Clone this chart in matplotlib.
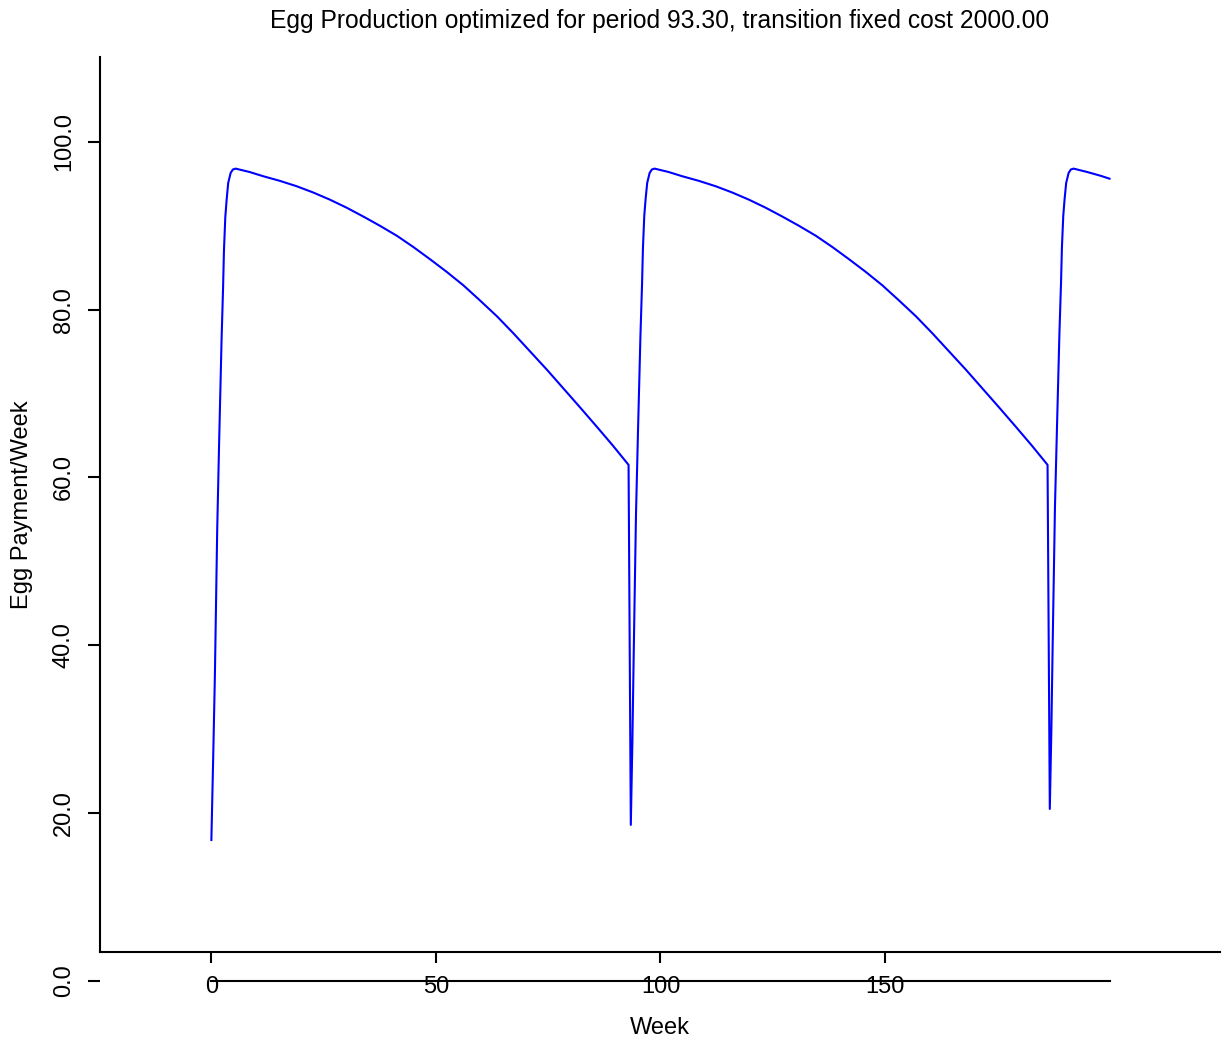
import matplotlib.pyplot as plt
from matplotlib.ticker import FormatStrFormatter

plt.rcParams['font.family'] = ['Liberation Sans', 'DejaVu Sans']
plt.rcParams['font.size'] = 17

# weeks and egg payment per week
weeks = [0.0, 0.4, 0.78, 1.3, 1.74, 2.27, 2.6, 2.8, 3.1, 3.4, 3.75, 4.3, 4.8, 5.4,
         8.5, 11.5, 15.2, 19.0, 22.7, 26.4, 30.1, 33.8, 37.5, 41.3, 45.0, 48.7, 52.4,
         56.1, 59.8, 63.6, 67.3, 71.0, 74.7, 78.4, 82.1, 85.9, 89.4, 92.9,
         93.4, 93.75, 94.05, 94.55, 95.0, 95.55, 95.9, 96.1, 96.4, 96.7, 97.05, 97.6, 98.1, 98.7,
         101.8, 104.8, 108.5, 112.3, 116.0, 119.7, 123.4, 127.1, 130.8, 134.6, 138.3, 142.0, 145.7,
         149.4, 153.1, 156.9, 160.6, 164.3, 168.0, 171.7, 175.4, 179.2, 182.7, 186.2,
         186.7, 187.05, 187.35, 187.85, 188.3, 188.85, 189.2, 189.4, 189.7, 190.0, 190.35, 190.9,
         191.4, 192.0, 195.0, 198.0, 200.0]
payment = [16.8, 26.5, 36.3, 53.8, 64.5, 76.4, 82.5, 87.0, 91.0, 93.1, 95.1, 96.3, 96.7, 96.8,
           96.4, 95.9, 95.35, 94.7, 93.95, 93.1, 92.15, 91.1, 90.0, 88.8, 87.45, 86.0, 84.5,
           82.9, 81.1, 79.2, 77.15, 75.0, 72.85, 70.6, 68.35, 66.0, 63.8, 61.5,
           18.6, 28.5, 39.1, 55.5, 65.5, 77.0, 83.0, 87.3, 91.2, 93.2, 95.1, 96.3, 96.7, 96.8,
           96.4, 95.9, 95.35, 94.7, 93.95, 93.1, 92.15, 91.1, 90.0, 88.8, 87.45, 86.0, 84.5,
           82.9, 81.1, 79.2, 77.15, 75.0, 72.85, 70.6, 68.35, 66.0, 63.8, 61.5,
           20.5, 30.0, 40.5, 56.5, 66.0, 77.3, 83.2, 87.4, 91.2, 93.2, 95.1, 96.3,
           96.7, 96.8, 96.4, 95.95, 95.6]

base_x = [0, 200]
base_y = [0, 0]

xticks = [0, 50, 100, 150]
yticks = [0, 20, 40, 60, 80, 100]

fig = plt.figure(figsize=(12.25, 10.42), dpi=100)
ax = fig.add_axes([100/1225, 61/1042, 1120/1225, 924/1042])

ax.plot(weeks, payment, color='#0000ff', lw=1.5)
ax.plot(base_x, base_y, color='black', lw=1.5, clip_on=False)

ax.set_xlim(-24.8, 224.6)
ax.set_ylim(0, 110.1)

ax.spines['top'].set_visible(False)
ax.spines['right'].set_visible(False)
ax.spines['bottom'].set_position(('data', 3.46))
ax.spines['left'].set_bounds(3.46, 110.1)
for s in ('left', 'bottom'):
    ax.spines[s].set_linewidth(1.5)

ax.set_xticks(xticks)
ax.set_yticks(yticks)
ax.yaxis.set_major_formatter(FormatStrFormatter('%.1f'))
ax.tick_params(axis='x', length=8, width=1.5, pad=9)
ax.tick_params(axis='y', length=8.5, width=1.5, pad=9.5, labelrotation=90)
plt.setp(ax.get_yticklabels(), va='center')

ax.set_title('Egg Production optimized for period 93.30, transition fixed cost 2000.00',
             fontsize=17.7, pad=21)
ax.set_xlabel('Week')
ax.set_ylabel('Egg Payment/Week')
ax.xaxis.set_label_coords(0.5, -0.039)
ax.yaxis.set_label_coords(-0.060, 0.515)

fig.savefig('out.png', dpi=100)
